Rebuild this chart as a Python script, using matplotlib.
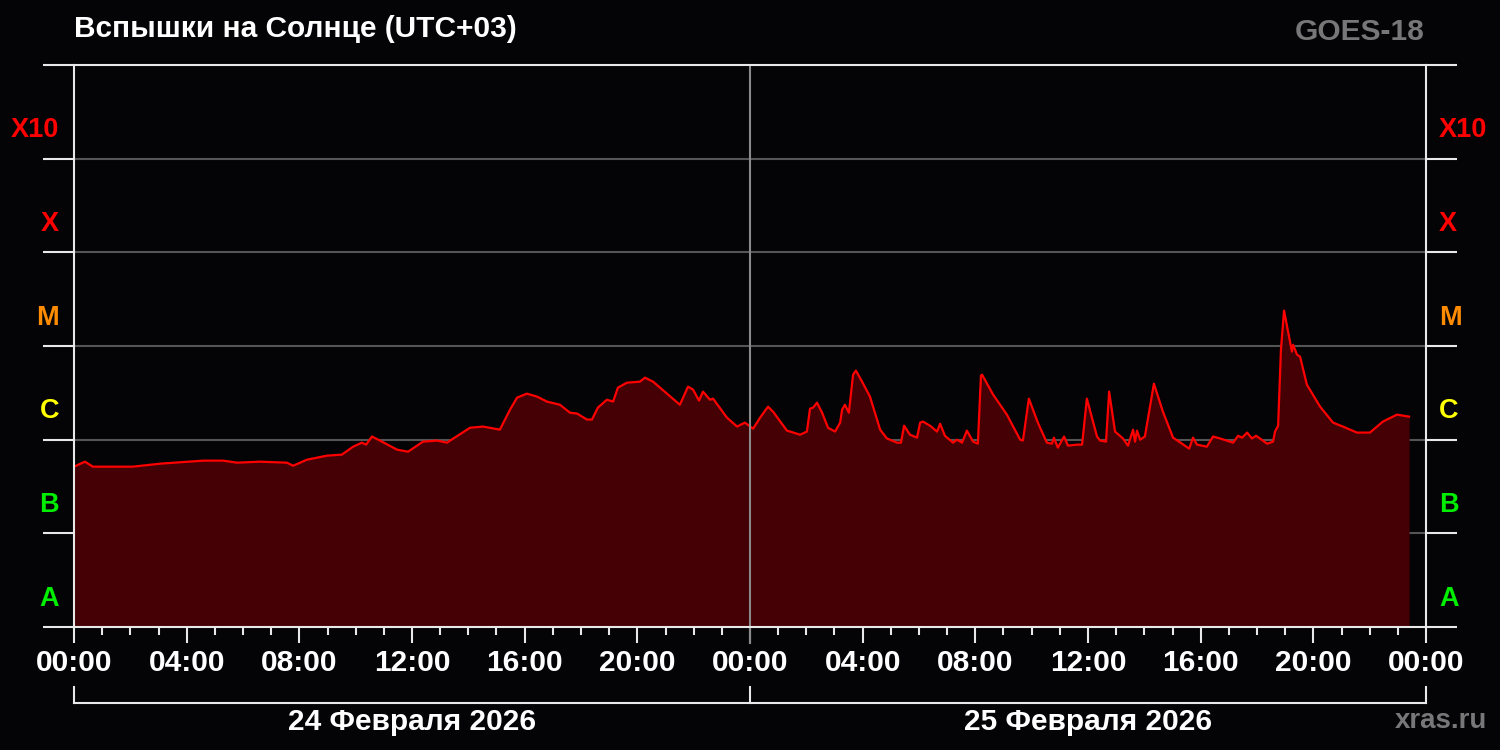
import numpy as np
import matplotlib.pyplot as plt
from matplotlib.ticker import FixedLocator, FuncFormatter, NullLocator

plt.rcParams['font.family'] = ['Liberation Sans', 'DejaVu Sans']
plt.rcParams['font.weight'] = 'bold'

# GOES-18 X-ray flux, hours from 24 Feb 2026 00:00 (UTC+03)
hours = [0.0, 0.39, 0.67, 2.09, 3.05, 4.58, 5.29, 5.79, 6.60, 7.56, 7.78, 8.27,
         8.98, 9.51, 9.91, 10.22, 10.37, 10.58, 10.86, 11.47, 11.86, 12.39, 12.89,
         13.24, 14.06, 14.52, 15.12, 15.48, 15.73, 16.08, 16.44, 16.79, 17.25,
         17.61, 17.86, 18.21, 18.39, 18.60, 18.92, 19.14, 19.31, 19.63, 20.09,
         20.27, 20.56, 21.51, 21.80, 21.98, 22.19, 22.33, 22.58, 22.69, 23.18,
         23.54, 23.82, 24.11, 24.36, 24.64, 24.82, 25.31, 25.78, 26.02, 26.13,
         26.24, 26.38, 26.56, 26.77, 27.02, 27.20, 27.27, 27.37, 27.51, 27.66,
         27.76, 27.98, 28.26, 28.62, 28.86, 29.22, 29.36, 29.47, 29.68, 29.93,
         30.04, 30.14, 30.39, 30.64, 30.75, 30.92, 31.21, 31.35, 31.53, 31.70,
         31.92, 32.09, 32.20, 32.24, 32.63, 33.12, 33.59, 33.69, 33.90, 34.22,
         34.54, 34.72, 34.79, 34.93, 35.15, 35.29, 35.61, 35.79, 35.96, 36.32,
         36.43, 36.64, 36.75, 36.96, 37.24, 37.42, 37.60, 37.67, 37.74, 37.85,
         38.02, 38.34, 38.66, 39.02, 39.34, 39.59, 39.73, 39.87, 40.22, 40.44,
         40.69, 41.15, 41.33, 41.47, 41.65, 41.82, 41.97, 42.36, 42.57, 42.64,
         42.75, 42.85, 42.96, 43.07, 43.24, 43.28, 43.42, 43.53, 43.77, 44.24,
         44.70, 45.05, 45.55, 46.01, 46.47, 46.97, 47.40]
flux = [5.15e-7, 5.82e-7, 5.15e-7, 5.15e-7, 5.54e-7, 5.97e-7, 5.97e-7, 5.68e-7,
        5.82e-7, 5.68e-7, 5.27e-7, 6.11e-7, 6.75e-7, 6.92e-7, 8.42e-7, 9.29e-7,
        8.85e-7, 1.08e-6, 9.78e-7, 7.82e-7, 7.44e-7, 9.52e-7, 9.78e-7, 9.29e-7,
        1.34e-6, 1.38e-6, 1.28e-6, 2.09e-6, 2.81e-6, 3.10e-6, 2.88e-6, 2.55e-6,
        2.36e-6, 1.94e-6, 1.90e-6, 1.64e-6, 1.64e-6, 2.20e-6, 2.67e-6, 2.55e-6,
        3.59e-6, 4.06e-6, 4.16e-6, 4.59e-6, 4.16e-6, 2.36e-6, 3.68e-6, 3.42e-6,
        2.61e-6, 3.26e-6, 2.67e-6, 2.74e-6, 1.72e-6, 1.38e-6, 1.52e-6, 1.31e-6,
        1.72e-6, 2.25e-6, 1.99e-6, 1.25e-6, 1.13e-6, 1.22e-6, 2.14e-6, 2.20e-6,
        2.48e-6, 1.94e-6, 1.34e-6, 1.22e-6, 1.52e-6, 2.09e-6, 2.36e-6, 1.94e-6,
        4.94e-6, 5.46e-6, 4.16e-6, 2.88e-6, 1.28e-6, 1.03e-6, 9.29e-7, 9.29e-7,
        1.41e-6, 1.13e-6, 1.05e-6, 1.52e-6, 1.56e-6, 1.41e-6, 1.22e-6, 1.48e-6,
        1.10e-6, 9.29e-7, 1.00e-6, 9.29e-7, 1.25e-6, 9.52e-7, 9.06e-7, 4.83e-6,
        4.94e-6, 3.03e-6, 1.85e-6, 1.00e-6, 9.78e-7, 2.74e-6, 1.52e-6, 9.29e-7,
        9.06e-7, 1.05e-6, 8.22e-7, 1.08e-6, 8.63e-7, 8.85e-7, 8.85e-7, 2.74e-6,
        1.08e-6, 9.78e-7, 9.52e-7, 3.26e-6, 1.22e-6, 1.03e-6, 8.63e-7, 1.28e-6,
        9.52e-7, 1.25e-6, 1.00e-6, 1.08e-6, 3.96e-6, 1.99e-6, 1.05e-6, 9.06e-7,
        8.02e-7, 1.05e-6, 8.85e-7, 8.42e-7, 1.08e-6, 1.03e-6, 9.29e-7, 1.10e-6,
        1.05e-6, 1.19e-6, 1.03e-6, 1.10e-6, 9.06e-7, 9.52e-7, 1.22e-6, 1.41e-6,
        9.14e-6, 2.39e-5, 1.61e-5, 8.71e-6, 1.03e-5, 8.09e-6, 7.69e-6, 3.87e-6,
        2.25e-6, 1.52e-6, 1.38e-6, 1.19e-6, 1.19e-6, 1.56e-6, 1.85e-6, 1.76e-6]

class_names = ['A', 'B', 'C', 'M', 'X', 'X10']
class_colors = ['#00ee00', '#00ee00', '#ffff00', '#ff8c00', '#ff0000', '#ff0000']
class_levels = [1e-8, 1e-7, 1e-6, 1e-5, 1e-4, 1e-3]
day_labels = ['24 Февраля 2026', '25 Февраля 2026']

bg = '#040306'
white = '#e8e8e8'

fig = plt.figure(figsize=(15, 7.5), dpi=100, facecolor=bg)
ax = fig.add_axes([74 / 1500, 123 / 750, 1352 / 1500, 562 / 750])
ax.set_facecolor(bg)

ax.set_yscale('log')
ax.set_ylim(1e-8, 1e-2)
ax.set_xlim(0, 48)

# level lines
for lev in class_levels[1:]:
    ax.axhline(lev, color='#555555', lw=1.5, zorder=1)

ax.fill_between(hours, flux, 1e-8, color='#440005', lw=0, zorder=2)
ax.plot(hours, flux, color='#ff0000', lw=1.6, zorder=3)

# midnight separator
ax.axvline(24, ymin=-0.0285, ymax=1, color='#8a8a8a', lw=1.5, zorder=4, clip_on=False)

for side in ['left', 'right', 'top', 'bottom']:
    ax.spines[side].set_color(white)
    ax.spines[side].set_linewidth(1.5)
    ax.spines[side].set_zorder(5)

# y ticks on both sides (class boundaries)
ax.yaxis.set_major_locator(FixedLocator([10.0 ** k for k in range(-8, -1)]))
ax.yaxis.set_minor_locator(NullLocator())
ax.tick_params(axis='y', which='major', left=True, right=True, length=22.3,
               width=1.5, color=white, labelleft=False, labelright=False)

# x ticks
ax.xaxis.set_major_locator(FixedLocator(np.arange(0, 49, 4)))
ax.xaxis.set_minor_locator(FixedLocator(np.arange(0, 49, 1)))
ax.xaxis.set_major_formatter(FuncFormatter(lambda v, p: '%02d:00' % (int(round(v)) % 24)))
ax.tick_params(axis='x', which='major', length=11.5, width=1.5, color=white,
               labelcolor='white', labelsize=21.5, pad=4)
ax.tick_params(axis='x', which='minor', length=5.8, width=1.5, color=white)

# class labels
for name, col, lev in zip(class_names, class_colors, class_levels):
    ax.text(-0.011, lev * 2, name, transform=ax.get_yaxis_transform(), ha='right',
            va='center', color=col, fontsize=19.5, fontweight='bold')
    ax.text(1.0096, lev * 2, name, transform=ax.get_yaxis_transform(), ha='left',
            va='center', color=col, fontsize=19.5, fontweight='bold')

# date bracket
yb, yt = -0.1352, -0.1068
ax.plot([0, 1], [yb, yb], transform=ax.transAxes, color=white, lw=1.5, clip_on=False)
for xf in [0, 0.5, 1]:
    ax.plot([xf, xf], [yb, yt], transform=ax.transAxes, color=white, lw=1.5, clip_on=False)
for i, lab in enumerate(day_labels):
    ax.text(0.25 + 0.5 * i, -0.169, lab, transform=ax.transAxes, ha='center',
            va='center', color='white', fontsize=21.5, fontweight='bold')

fig.text(74 / 1500, 1 - 29 / 750, 'Вспышки на Солнце (UTC+03)', ha='left', va='center',
         color='white', fontsize=21.5, fontweight='bold')
fig.text(1425 / 1500, 1 - 32 / 750, 'GOES-18', ha='right', va='center',
         color='#777777', fontsize=21.5, fontweight='bold')
fig.text(1487 / 1500, 1 - 721 / 750, 'xras.ru', ha='right', va='center',
         color='#777777', fontsize=20, fontweight='bold')

fig.savefig('out.png', dpi=100, facecolor=bg)
